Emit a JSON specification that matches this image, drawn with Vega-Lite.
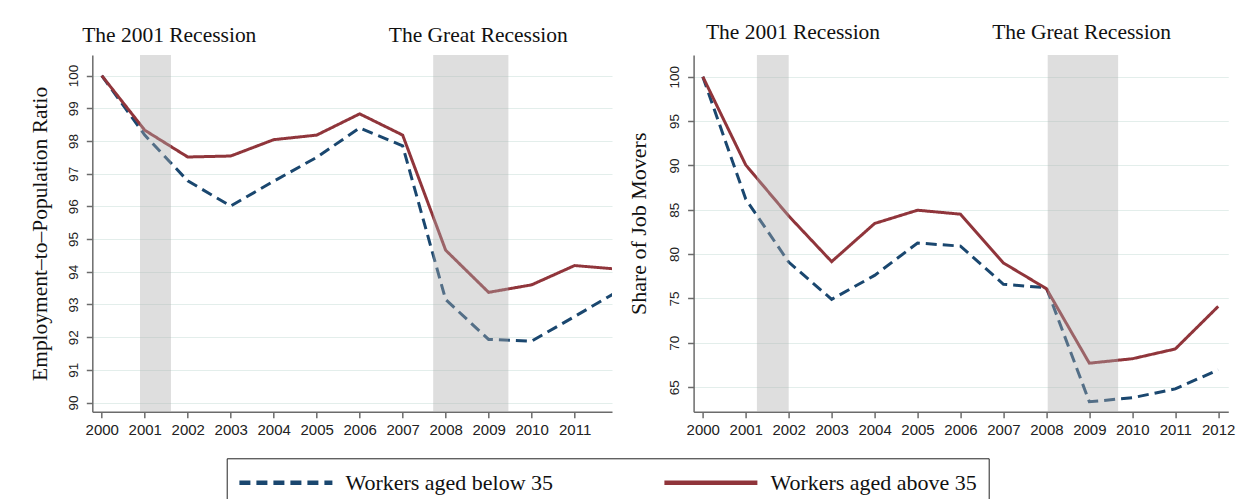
{
  "$schema": "https://vega.github.io/schema/vega-lite/v6.json",
  "autosize": {"type": "none"},
  "padding": {"left": 92.3, "top": 55, "right": 1148.7, "bottom": 444},
  "background": "white",
  "bounds": "flush",
  "spacing": 81.3,
  "config": {
    "view": {"stroke": null},
    "font": "Liberation Sans",
    "axis": {
      "domainColor": "#6b6b6b",
      "domainWidth": 1.5,
      "tickColor": "#6b6b6b",
      "tickWidth": 1.5,
      "tickSize": 6,
      "labelColor": "#222222",
      "labelFont": "Liberation Sans",
      "titleFont": "Liberation Serif",
      "titleFontWeight": "normal",
      "titleColor": "#111111",
      "titleFontSize": 21.5,
      "gridColor": "#e3eeeb",
      "gridWidth": 1,
      "labelOverlap": false,
      "tickCount": 20
    }
  },
  "datasets": {
    "emp": [
      {"year": 2000, "value": 100, "group": "Workers aged below 35"},
      {"year": 2001, "value": 98.18, "group": "Workers aged below 35"},
      {"year": 2002, "value": 96.78, "group": "Workers aged below 35"},
      {"year": 2003, "value": 96.01, "group": "Workers aged below 35"},
      {"year": 2004, "value": 96.77, "group": "Workers aged below 35"},
      {"year": 2005, "value": 97.5, "group": "Workers aged below 35"},
      {"year": 2006, "value": 98.4, "group": "Workers aged below 35"},
      {"year": 2007, "value": 97.85, "group": "Workers aged below 35"},
      {"year": 2008, "value": 93.15, "group": "Workers aged below 35"},
      {"year": 2009, "value": 91.93, "group": "Workers aged below 35"},
      {"year": 2010, "value": 91.88, "group": "Workers aged below 35"},
      {"year": 2011, "value": 92.63, "group": "Workers aged below 35"},
      {"year": 2012, "value": 93.4, "group": "Workers aged below 35"},
      {"year": 2000, "value": 100, "group": "Workers aged above 35"},
      {"year": 2001, "value": 98.33, "group": "Workers aged above 35"},
      {"year": 2002, "value": 97.51, "group": "Workers aged above 35"},
      {"year": 2003, "value": 97.54, "group": "Workers aged above 35"},
      {"year": 2004, "value": 98.04, "group": "Workers aged above 35"},
      {"year": 2005, "value": 98.18, "group": "Workers aged above 35"},
      {"year": 2006, "value": 98.83, "group": "Workers aged above 35"},
      {"year": 2007, "value": 98.18, "group": "Workers aged above 35"},
      {"year": 2008, "value": 94.66, "group": "Workers aged above 35"},
      {"year": 2009, "value": 93.37, "group": "Workers aged above 35"},
      {"year": 2010, "value": 93.6, "group": "Workers aged above 35"},
      {"year": 2011, "value": 94.19, "group": "Workers aged above 35"},
      {"year": 2012, "value": 94.08, "group": "Workers aged above 35"}
    ],
    "movers": [
      {"year": 2000, "value": 100, "group": "Workers aged below 35"},
      {"year": 2001, "value": 86.2, "group": "Workers aged below 35"},
      {"year": 2002, "value": 79.1, "group": "Workers aged below 35"},
      {"year": 2003, "value": 74.9, "group": "Workers aged below 35"},
      {"year": 2004, "value": 77.6, "group": "Workers aged below 35"},
      {"year": 2005, "value": 81.25, "group": "Workers aged below 35"},
      {"year": 2006, "value": 80.9, "group": "Workers aged below 35"},
      {"year": 2007, "value": 76.6, "group": "Workers aged below 35"},
      {"year": 2008, "value": 76.2, "group": "Workers aged below 35"},
      {"year": 2009, "value": 63.35, "group": "Workers aged below 35"},
      {"year": 2010, "value": 63.8, "group": "Workers aged below 35"},
      {"year": 2011, "value": 64.8, "group": "Workers aged below 35"},
      {"year": 2012, "value": 66.95, "group": "Workers aged below 35"},
      {"year": 2000, "value": 100, "group": "Workers aged above 35"},
      {"year": 2001, "value": 90.05, "group": "Workers aged above 35"},
      {"year": 2002, "value": 84.3, "group": "Workers aged above 35"},
      {"year": 2003, "value": 79.15, "group": "Workers aged above 35"},
      {"year": 2004, "value": 83.45, "group": "Workers aged above 35"},
      {"year": 2005, "value": 84.95, "group": "Workers aged above 35"},
      {"year": 2006, "value": 84.5, "group": "Workers aged above 35"},
      {"year": 2007, "value": 79.0, "group": "Workers aged above 35"},
      {"year": 2008, "value": 76.1, "group": "Workers aged above 35"},
      {"year": 2009, "value": 67.7, "group": "Workers aged above 35"},
      {"year": 2010, "value": 68.2, "group": "Workers aged above 35"},
      {"year": 2011, "value": 69.3, "group": "Workers aged above 35"},
      {"year": 2012, "value": 74.1, "group": "Workers aged above 35"}
    ],
    "recLeft": [
      {"start": 2000.89, "end": 2001.61},
      {"start": 2007.71, "end": 2009.46}
    ],
    "recRight": [
      {"start": 2001.26, "end": 2002.0},
      {"start": 2008.03, "end": 2009.67}
    ],
    "labLeft": [
      {"label": "The 2001 Recession", "year": 2001.57},
      {"label": "The Great Recession", "year": 2008.76}
    ],
    "labRight": [
      {"label": "The 2001 Recession", "year": 2002.1},
      {"label": "The Great Recession", "year": 2008.82}
    ]
  },
  "resolve": {"scale": {"color": "shared", "strokeDash": "shared"}},
  "hconcat": [
    {
      "width": 519.7,
      "height": 356.7,
      "layer": [
        {
          "data": {"name": "emp"},
          "transform": [{"filter": "datum.group === 'Workers aged below 35'"}],
          "mark": {"type": "line", "strokeWidth": 3, "clip": true},
          "encoding": {
            "x": {"field": "year", "type": "quantitative",
              "scale": {"domain": [1999.78, 2011.87], "nice": false, "zero": false},
              "axis": {"title": null, "values": [2000,2001,2002,2003,2004,2005,2006,2007,2008,2009,2010,2011], "format": "d", "labelFontSize": 15, "labelPadding": 5, "grid": false, "labelFlush": false, "tickCount": 20}},
            "y": {"field": "value", "type": "quantitative",
              "scale": {"domain": [89.72, 100.63], "nice": false, "zero": false},
              "axis": {"title": "Employment–to–Population  Ratio", "values": [90,91,92,93,94,95,96,97,98,99,100], "format": "d", "tickCount": 20, "labelFontSize": 13.5, "labelAngle": 270, "labelAlign": "center", "labelBaseline": "bottom", "labelPadding": 6, "grid": true, "titleX": -52, "titleBaseline": "middle"}},
            "color": {"field": "group", "type": "nominal",
              "scale": {"domain": ["Workers aged below 35", "Workers aged above 35"], "range": ["#1a476f", "#90353b"]},
              "legend": {"title": null, "orient": "none", "legendX": 134.4, "legendY": 403.3, "direction": "horizontal", "columns": 2, "symbolType": "M-4.65,0H4.65", "symbolSize": 400, "symbolStrokeWidth": 4.5, "symbolOffset": 35, "labelFont": "Liberation Serif", "labelFontSize": 22, "labelColor": "#111111", "labelOffset": 47, "columnPadding": 102, "padding": 11.7, "strokeColor": "#222222", "fillColor": "white", "labelLimit": 400}},
            "strokeDash": {"field": "group", "type": "nominal",
              "scale": {"domain": ["Workers aged below 35", "Workers aged above 35"], "range": [[11, 6], [1, 0]]},
              "legend": {"title": null}}
          }
        },
        {
          "data": {"name": "emp"},
          "transform": [{"filter": "datum.group === 'Workers aged above 35'"}],
          "mark": {"type": "line", "strokeWidth": 3, "clip": true},
          "encoding": {
            "x": {"field": "year", "type": "quantitative"},
            "y": {"field": "value", "type": "quantitative"},
            "color": {"field": "group", "type": "nominal"},
            "strokeDash": {"field": "group", "type": "nominal"}
          }
        },
        {
          "data": {"name": "recLeft"},
          "mark": {"type": "rect", "color": "#adadad", "opacity": 0.4},
          "encoding": {
            "x": {"field": "start", "type": "quantitative"},
            "x2": {"field": "end"}
          }
        },
        {
          "data": {"name": "labLeft"},
          "mark": {"type": "text", "font": "Liberation Serif", "fontSize": 21.5, "baseline": "middle", "color": "#111111"},
          "encoding": {
            "x": {"field": "year", "type": "quantitative"},
            "y": {"datum": 101.22},
            "text": {"field": "label"}
          }
        }
      ]
    },
    {
      "width": 534.7,
      "height": 356.7,
      "layer": [
        {
          "data": {"name": "movers"},
          "transform": [{"filter": "datum.group === 'Workers aged below 35'"}],
          "mark": {"type": "line", "strokeWidth": 3, "clip": true},
          "encoding": {
            "x": {"field": "year", "type": "quantitative",
              "scale": {"domain": [1999.786, 2012.235], "nice": false, "zero": false},
              "axis": {"title": null, "values": [2000,2001,2002,2003,2004,2005,2006,2007,2008,2009,2010,2011,2012], "format": "d", "labelFontSize": 15, "labelPadding": 5, "grid": false, "labelFlush": false, "tickCount": 20}},
            "y": {"field": "value", "type": "quantitative",
              "scale": {"domain": [62.23, 102.45], "nice": false, "zero": false},
              "axis": {"title": "Share of Job Movers", "values": [65,70,75,80,85,90,95,100], "format": "d", "tickCount": 20, "labelFontSize": 13.5, "labelAngle": 270, "labelAlign": "center", "labelBaseline": "bottom", "labelPadding": 6, "grid": true, "titleX": -55, "titleY": 168.3, "titleFontSize": 22, "titleBaseline": "middle"}},
            "color": {"field": "group", "type": "nominal"},
            "strokeDash": {"field": "group", "type": "nominal"}
          }
        },
        {
          "data": {"name": "movers"},
          "transform": [{"filter": "datum.group === 'Workers aged above 35'"}],
          "mark": {"type": "line", "strokeWidth": 3, "clip": true},
          "encoding": {
            "x": {"field": "year", "type": "quantitative"},
            "y": {"field": "value", "type": "quantitative"},
            "color": {"field": "group", "type": "nominal"},
            "strokeDash": {"field": "group", "type": "nominal"}
          }
        },
        {
          "data": {"name": "recRight"},
          "mark": {"type": "rect", "color": "#adadad", "opacity": 0.4},
          "encoding": {
            "x": {"field": "start", "type": "quantitative"},
            "x2": {"field": "end"}
          }
        },
        {
          "data": {"name": "labRight"},
          "mark": {"type": "text", "font": "Liberation Serif", "fontSize": 21.5, "baseline": "middle", "color": "#111111"},
          "encoding": {
            "x": {"field": "year", "type": "quantitative"},
            "y": {"datum": 104.93},
            "text": {"field": "label"}
          }
        }
      ]
    }
  ]
}
